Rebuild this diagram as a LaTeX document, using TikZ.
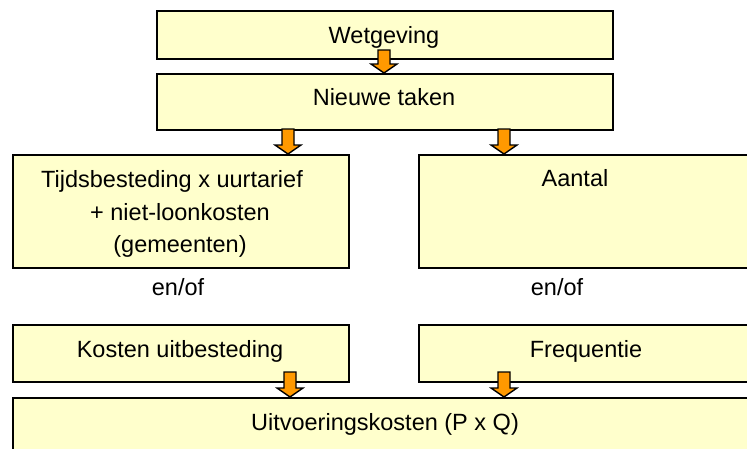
\documentclass[tikz,border=0pt]{standalone}
\usepackage{fontspec}
\setmainfont{Liberation Sans}
\usetikzlibrary{calc}
\definecolor{boxyellow}{HTML}{FFFFCC}
\definecolor{arroworange}{HTML}{FF9900}
\begin{document}
\begin{tikzpicture}[x=1pt,y=-1pt,
  box/.style={draw=black, line width=2pt, fill=boxyellow, anchor=north west, inner sep=0pt},
  lbl/.style={font=\fontsize{23.5}{28}\selectfont, anchor=base, inner sep=0pt, text=black},
  arrowsty/.style={draw=black, line width=1.4pt, fill=arroworange, line join=miter}]
\useasboundingbox (0,0) rectangle (747,448);
\clip (0,0) rectangle (747,448);
\newcommand{\barrow}[2]{%
  \draw[arrowsty] ($(#1)+(-6,0)$) -- ($(#2)+(-6,-9)$) -- ($(#2)+(-13,-9)$) -- (#2)
    -- ($(#2)+(13,-9)$) -- ($(#2)+(6,-9)$) -- ($(#1)+(6,0)$) -- cycle;}
% boxes
\node[box, minimum width=456pt, minimum height=48pt] (W) at (156,10) {};
\node[box, minimum width=456pt, minimum height=56pt] (N) at (156,73) {};
\node[box, minimum width=336pt, minimum height=113pt] (T) at (12,154) {};
\node[box, minimum width=360pt, minimum height=113pt] (A) at (418,154) {};
\node[box, minimum width=336pt, minimum height=57pt] (K) at (12,324) {};
\node[box, minimum width=360pt, minimum height=57pt] (F) at (418,324) {};
\node[box, minimum width=770pt, minimum height=80pt] (U) at (12,397) {};
% arrow endpoints
\coordinate (a1s) at (384,50);  \coordinate (a1e) at (a1s |- N.north);
\coordinate (a2s) at (288,129); \coordinate (a2e) at (a2s |- T.north);
\coordinate (a3s) at (504,129); \coordinate (a3e) at (a3s |- A.north);
\coordinate (a4s) at (290,372); \coordinate (a4e) at (a4s |- U.north);
\coordinate (a5s) at (504,372); \coordinate (a5e) at (a5s |- U.north);
\barrow{a1s}{a1e}
\barrow{a2s}{a2e}
\barrow{a3s}{a3e}
\barrow{a4s}{a4e}
\barrow{a5s}{a5e}
% texts
\node[lbl] (tW) at (384,43) {Wetgeving};
\node[lbl] (tN) at (384,105) {Nieuwe taken};
\node[lbl] (tT1) at (172,187) {Tijdsbesteding x uurtarief};
\node[lbl] (tT2) at (180,220) {+ niet-loonkosten};
\node[lbl] (tT3) at (180,252) {(gemeenten)};
\node[lbl] (tA) at (575,186) {Aantal};
\node[lbl] (eo1) at (178,295) {en/of};
\node[lbl] (eo2) at (557,295) {en/of};
\node[lbl] (tK) at (180,357) {Kosten uitbesteding};
\node[lbl] (tF) at (586,357) {Frequentie};
\node[lbl] (tU) at (385,430) {Uitvoeringskosten (P x Q)};
\end{tikzpicture}
\end{document}
